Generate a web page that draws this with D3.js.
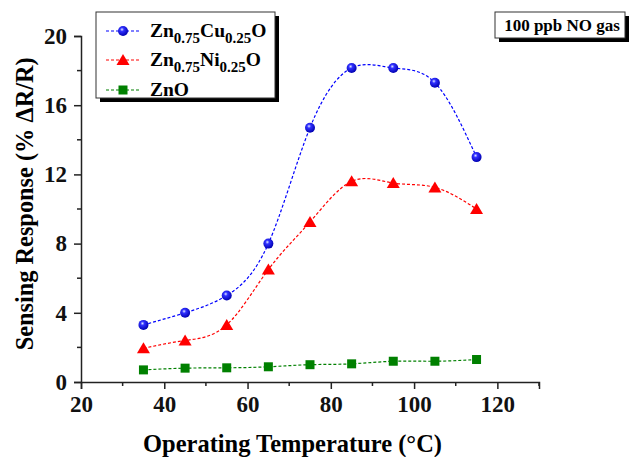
<!DOCTYPE html>
<html>
<head>
<meta charset="utf-8">
<script src="https://cdn.jsdelivr.net/npm/d3@7"></script>
<style>
  body { margin: 0; background: #fff; }
  text { font-family: "Liberation Serif", "Times New Roman", serif; font-weight: bold; }
</style>
</head>
<body>
<div id="chart"></div>
<script>
// data
const temps = [35, 45, 55, 65, 75, 85, 95, 105, 115]
const cuValues = [3.3, 4.0, 5.0, 8.0, 14.7, 18.15, 18.15, 17.3, 13.0]
const niValues = [1.95, 2.4, 3.3, 6.5, 9.25, 11.6, 11.5, 11.25, 10.0]
const znoValues = [0.7, 0.8, 0.82, 0.88, 1.0, 1.05, 1.2, 1.2, 1.3]
const xTicks = [20, 40, 60, 80, 100, 120]
const yTicks = [0, 4, 8, 12, 16, 20]

const series = [
  { name: "cu", values: cuValues, color: "#0000ff", marker: "sphere" },
  { name: "ni", values: niValues, color: "#ff0000", marker: "triangle" },
  { name: "zno", values: znoValues, color: "#008000", marker: "square" },
]

const width = 631, height = 457
const margin = { top: 36, right: 92, bottom: 75, left: 81 }
const innerW = width - margin.left - margin.right
const innerH = height - margin.top - margin.bottom

const svg = d3.select("#chart").append("svg")
  .attr("width", width).attr("height", height)

const defs = svg.append("defs")
const grad = defs.append("radialGradient").attr("id", "sphere")
  .attr("cx", "40%").attr("cy", "35%").attr("r", "65%")
grad.append("stop").attr("offset", "0%").attr("stop-color", "#e0e8ff")
grad.append("stop").attr("offset", "30%").attr("stop-color", "#3030ff")
grad.append("stop").attr("offset", "100%").attr("stop-color", "#0000b0")

const g = svg.append("g").attr("transform", `translate(${margin.left},${margin.top})`)

const x = d3.scaleLinear().domain([20, 130]).range([0, innerW])
const y = d3.scaleLinear().domain([0, 20]).range([innerH, 0])

// axes: major + minor ticks
const xAxis = g.append("g").attr("transform", `translate(0,${innerH})`)
  .call(d3.axisBottom(x).tickValues(xTicks).tickSize(7).tickPadding(7))
xAxis.append("g").selectAll("line").data([30, 50, 70, 90, 110, 130]).join("line")
  .attr("x1", d => x(d)).attr("x2", d => x(d)).attr("y1", 0).attr("y2", 4)
  .attr("stroke", "#222").attr("stroke-width", 1.5)

const yAxis = g.append("g")
  .call(d3.axisLeft(y).tickValues(yTicks).tickSize(7).tickPadding(7))
yAxis.append("g").selectAll("line").data([2, 6, 10, 14, 18]).join("line")
  .attr("y1", d => y(d)).attr("y2", d => y(d)).attr("x1", 0).attr("x2", -4)
  .attr("stroke", "#222").attr("stroke-width", 1.5)

g.selectAll(".domain").attr("stroke", "#222").attr("stroke-width", 1.5)
g.selectAll(".tick line").attr("stroke", "#222").attr("stroke-width", 1.5)
g.selectAll(".tick text").attr("font-size", 23).attr("fill", "#111")
  .style("font-family", "Liberation Serif").style("font-weight", "bold")

// axis titles
svg.append("text")
  .attr("x", 292.5).attr("y", 452)
  .attr("text-anchor", "middle").attr("font-size", 26)
  .attr("textLength", 299).attr("lengthAdjust", "spacingAndGlyphs")
  .text("Operating Temperature (°C)")

svg.append("text")
  .attr("transform", `translate(33,${margin.top + y(10.3)}) rotate(-90)`)
  .attr("text-anchor", "middle").attr("font-size", 26)
  .attr("textLength", 293).attr("lengthAdjust", "spacingAndGlyphs")
  .text("Sensing Response (% ΔR/R)")

// lines + markers
const line = d3.line()
  .x((d, i) => x(temps[i]))
  .y(d => y(d))
  .curve(d3.curveNatural)

function drawMarker(sel, s, cx, cy) {
  if (s.marker == "sphere") {
    sel.append("circle").attr("cx", cx).attr("cy", cy).attr("r", 5)
      .attr("fill", "url(#sphere)")
  } else if (s.marker == "triangle") {
    sel.append("path")
      .attr("d", `M${cx},${cy - 6}L${cx + 6.5},${cy + 5}L${cx - 6.5},${cy + 5}Z`)
      .attr("fill", s.color)
  } else {
    sel.append("rect").attr("x", cx - 4.5).attr("y", cy - 4.5)
      .attr("width", 9).attr("height", 9).attr("fill", s.color)
  }
}

series.forEach(s => {
  g.append("path")
    .attr("d", line(s.values))
    .attr("fill", "none")
    .attr("stroke", s.color)
    .attr("stroke-width", 1.2)
    .attr("stroke-dasharray", "3,2")
  const mk = g.append("g")
  s.values.forEach((v, i) => drawMarker(mk, s, x(temps[i]), y(v)))
})

// legend box with drop shadow
const lg = svg.append("g")
lg.append("rect").attr("x", 100).attr("y", 16).attr("width", 179).attr("height", 86).attr("fill", "#000")
lg.append("rect").attr("x", 96).attr("y", 12).attr("width", 179).attr("height", 86)
  .attr("fill", "#fff").attr("stroke", "#333").attr("stroke-width", 1)

const legendRows = [
  { s: series[0], y: 31, parts: [["Zn", 0], ["0.75", 1], ["Cu", 0], ["0.25", 1], ["O", 0]] },
  { s: series[1], y: 60, parts: [["Zn", 0], ["0.75", 1], ["Ni", 0], ["0.25", 1], ["O", 0]] },
  { s: series[2], y: 90, parts: [["ZnO", 0]] },
]
legendRows.forEach(r => {
  lg.append("line").attr("x1", 106).attr("x2", 140).attr("y1", r.y).attr("y2", r.y)
    .attr("stroke", r.s.color).attr("stroke-width", 1.2).attr("stroke-dasharray", "3,2")
  drawMarker(lg, r.s, 123, r.y)
  const t = lg.append("text").attr("x", 150).attr("y", r.y + 6).attr("font-size", 19.5)
  r.parts.forEach(p => {
    t.append("tspan").text(p[0])
      .attr("font-size", p[1] ? 15 : 19.5)
      .attr("dy", p[1] ? 5.5 : (t.selectAll("tspan").size() > 1 ? -5.5 : 0))
  })
})

// annotation box
const ab = svg.append("g")
ab.append("rect").attr("x", 499).attr("y", 16).attr("width", 130).attr("height", 26).attr("fill", "#000")
ab.append("rect").attr("x", 495).attr("y", 12).attr("width", 130).attr("height", 26)
  .attr("fill", "#fff").attr("stroke", "#333").attr("stroke-width", 1)
ab.append("text").attr("x", 562).attr("y", 31).attr("text-anchor", "middle")
  .attr("font-size", 17).text("100 ppb NO gas")
</script>
</body>
</html>
